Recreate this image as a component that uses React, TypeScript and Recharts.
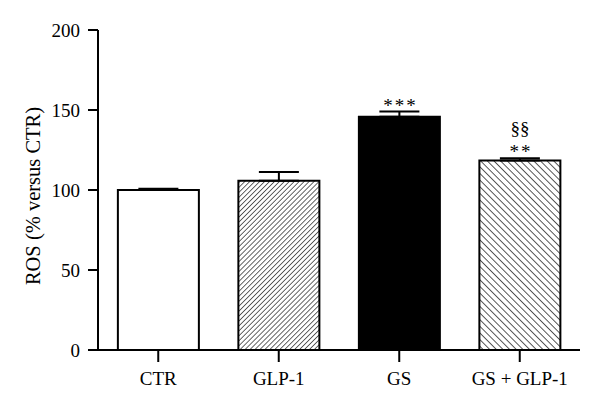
import { BarChart, Bar, XAxis, YAxis, Cell, ErrorBar, LabelList } from 'recharts'

const groups = ['CTR', 'GLP-1', 'GS', 'GS + GLP-1']
const rosValues = [100, 105.8, 145.8, 118.5]
const rosErrors = [0.8, 5.5, 3.2, 1.3]
const starMarks = ['', '', '***', '**']
const sectionMarks = ['', '', '', '§§']
const yTicks = [0, 50, 100, 150, 200]

const fills = ['#ffffff', 'url(#hatchFwd)', '#000000', 'url(#hatchBack)']

const data = groups.map((g, i) => ({
  name: g,
  ros: rosValues[i],
  err: [0, rosErrors[i]],
  stars: starMarks[i],
  sect: sectionMarks[i]
}))

const font = '"Liberation Serif", "DejaVu Serif", serif'

// places a mark above the top of the error bar of its bar
function MarkLabel(props: any) {
  const { x, y, width, height, value, index, shift, spacing } = props
  if (!value) return null
  const pxPerUnit = height / rosValues[index]
  const errTop = y - rosErrors[index] * pxPerUnit
  return (
    <text
      x={x + width / 2 + spacing / 2}
      y={errTop - shift}
      textAnchor="middle"
      fontFamily={font}
      fontSize={19}
      letterSpacing={spacing}
      fill="#000"
    >
      {value}
    </text>
  )
}

function YLabel(props: any) {
  const { viewBox } = props
  const cx = viewBox.x + 33
  const cy = viewBox.y + viewBox.height / 2 + 6
  return (
    <text
      x={cx}
      y={cy}
      transform={`rotate(-90, ${cx}, ${cy})`}
      textAnchor="middle"
      dominantBaseline="central"
      fontFamily={font}
      fontSize={20.5}
      fill="#000"
    >
      ROS (% versus CTR)
    </text>
  )
}

export default function App() {
  return (
    <div style={{ position: 'absolute', left: 0, top: 0, background: '#fff' }}>
      <BarChart
        width={600}
        height={415}
        data={data}
        margin={{ top: 30, right: 20, left: 0, bottom: 0 }}
        barCategoryGap="16.5%"
      >
        <defs>
          <pattern id="hatchFwd" width="3.5" height="3.5" patternUnits="userSpaceOnUse" patternTransform="rotate(45)">
            <rect width="3.5" height="3.5" fill="#fff" />
            <line x1="0" y1="0" x2="0" y2="3.5" stroke="#000" strokeWidth="1.2" />
          </pattern>
          <pattern id="hatchBack" width="4.7" height="4.7" patternUnits="userSpaceOnUse" patternTransform="rotate(-45)">
            <rect width="4.7" height="4.7" fill="#fff" />
            <line x1="0" y1="0" x2="0" y2="4.7" stroke="#000" strokeWidth="1.3" />
          </pattern>
        </defs>
        <XAxis
          dataKey="name"
          height={65}
          stroke="#000"
          strokeWidth={2}
          tickSize={12}
          tickMargin={10}
          tick={{ fill: '#000', fontFamily: font, fontSize: 19 }}
        />
        <YAxis
          width={98}
          domain={[0, 200]}
          ticks={yTicks}
          stroke="#000"
          strokeWidth={2}
          tickSize={10}
          tickMargin={8}
          tick={{ fill: '#000', fontFamily: font, fontSize: 19 }}
          label={<YLabel />}
        />
        <Bar dataKey="ros" stroke="#000" strokeWidth={2} isAnimationActive={false}>
          {data.map((d, i) => (
            <Cell key={d.name} fill={fills[i]} />
          ))}
          <ErrorBar dataKey="err" width={20} stroke="#000" strokeWidth={2} direction="y" />
          <LabelList dataKey="stars" content={(p: any) => <MarkLabel {...p} shift={0} spacing={2} />} />
          <LabelList dataKey="sect" content={(p: any) => <MarkLabel {...p} shift={23} spacing={0} />} />
        </Bar>
      </BarChart>
    </div>
  )
}
